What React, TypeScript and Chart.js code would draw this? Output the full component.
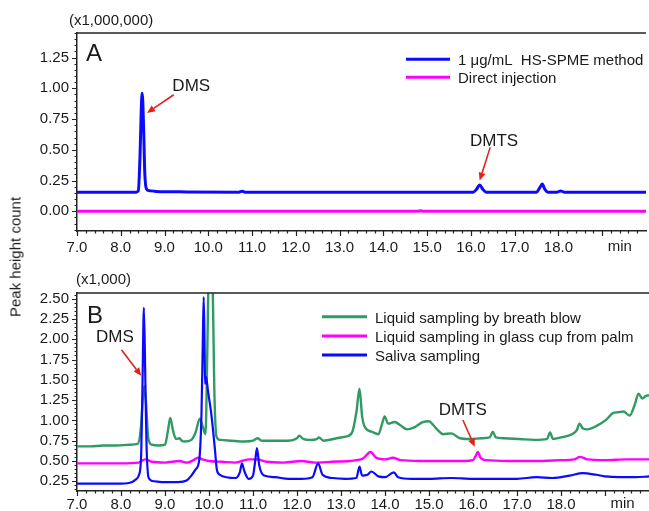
import React, { useEffect, useRef } from 'react';
import { Chart, registerables } from 'chart.js';

Chart.register(...registerables);

const FONT = "'Liberation Sans', Arial, Helvetica, sans-serif";
const TXT = '#1a1a1a';
const AX = '#222222';
const BLUE = '#0a0aff';
const MAGENTA = '#ff00ff';
const GREEN = '#2f9b62';
const RED = '#e3201c';

// ---------- Panel A data (x1,000,000) ----------
const aSpmeTime = [7.0, 8.35, 8.4, 8.44, 8.47, 8.49, 8.52, 8.55, 8.59, 8.65, 8.8, 9.5, 10.7, 10.77, 10.84, 12.0, 16.05, 16.13, 16.2, 16.27, 16.35, 17.5, 17.57, 17.63, 17.69, 17.76, 17.97, 18.05, 18.13, 20.0];
const aSpmeCount = [0.156, 0.156, 0.165, 0.45, 0.85, 0.96, 0.7, 0.3, 0.18, 0.168, 0.162, 0.158, 0.156, 0.164, 0.156, 0.156, 0.156, 0.18, 0.215, 0.18, 0.156, 0.156, 0.19, 0.222, 0.178, 0.156, 0.156, 0.166, 0.156, 0.156];
const aDirectTime = [7.0, 14.78, 14.85, 14.92, 20.0];
const aDirectCount = [0.0, 0.0, 0.004, 0.0, 0.0];

// ---------- Panel B data (x1,000) ----------
const bBreathTime = [7.0, 7.3, 7.6, 7.9, 8.2, 8.38, 8.45, 8.5, 8.53, 8.57, 8.62, 8.7, 8.85, 9.0, 9.06, 9.12, 9.18, 9.25, 9.33, 9.38, 9.45, 9.6, 9.7, 9.79, 9.86, 9.92, 9.96, 9.99, 10.03, 10.08, 10.12, 10.17, 10.25, 10.5, 10.8, 11.0, 11.1, 11.2, 11.5, 11.8, 12.0, 12.05, 12.15, 12.3, 12.45, 12.5, 12.6, 12.9, 13.1, 13.25, 13.35, 13.42, 13.48, 13.55, 13.7, 13.85, 13.93, 13.99, 14.07, 14.22, 14.35, 14.5, 14.65, 14.86, 15.0, 15.1, 15.2, 15.32, 15.51, 15.7, 15.93, 16.2, 16.38, 16.45, 16.52, 16.7, 17.06, 17.4, 17.68, 17.75, 17.82, 18.0, 18.25, 18.36, 18.42, 18.5, 18.6, 18.8, 19.03, 19.18, 19.3, 19.42, 19.56, 19.68, 19.76, 19.85, 19.92, 20.0];
const bBreathCount = [0.68, 0.68, 0.69, 0.69, 0.7, 0.71, 0.9, 1.3, 1.42, 1.2, 0.78, 0.7, 0.69, 0.7, 0.85, 1.03, 0.88, 0.77, 0.78, 0.75, 0.74, 0.76, 0.86, 1.02, 0.92, 0.83, 1.8, 2.8, 3.2, 2.8, 1.4, 0.8, 0.76, 0.75, 0.74, 0.75, 0.78, 0.75, 0.75, 0.75, 0.78, 0.81, 0.77, 0.76, 0.77, 0.79, 0.75, 0.78, 0.8, 0.85, 1.1, 1.39, 1.05, 0.91, 0.86, 0.83, 0.95, 1.05, 0.96, 0.98, 0.94, 0.89, 0.91, 0.98, 0.99, 0.94, 0.88, 0.83, 0.84, 0.78, 0.77, 0.78, 0.79, 0.86, 0.79, 0.78, 0.77, 0.76, 0.77, 0.85, 0.77, 0.79, 0.83, 0.88, 0.96, 0.9, 0.89, 0.93, 1.01, 1.09, 1.1, 1.11, 1.06, 1.2, 1.33, 1.27, 1.3, 1.31];
const bPalmTime = [7.0, 7.5, 8.0, 8.4, 8.55, 8.7, 9.0, 9.33, 9.5, 9.65, 9.75, 9.85, 10.0, 10.3, 10.6, 10.9, 11.1, 11.3, 11.7, 12.1, 12.4, 12.8, 13.2, 13.35, 13.5, 13.67, 13.8, 14.0, 14.18, 14.35, 14.8, 15.3, 15.8, 16.0, 16.06, 16.11, 16.17, 16.3, 16.8, 17.4, 18.0, 18.3, 18.43, 18.6, 19.0, 19.5, 20.0];
const bPalmCount = [0.47, 0.47, 0.47, 0.48, 0.52, 0.49, 0.48, 0.5, 0.48, 0.51, 0.54, 0.52, 0.5, 0.49, 0.48, 0.52, 0.52, 0.49, 0.48, 0.5, 0.48, 0.49, 0.5, 0.51, 0.53, 0.61, 0.54, 0.52, 0.54, 0.51, 0.5, 0.5, 0.5, 0.51, 0.56, 0.61, 0.54, 0.51, 0.5, 0.5, 0.51, 0.52, 0.55, 0.52, 0.51, 0.52, 0.52];
const bSalivaTime = [7.0, 7.5, 8.0, 8.25, 8.33, 8.41, 8.46, 8.49, 8.52, 8.55, 8.58, 8.63, 8.75, 9.0, 9.3, 9.49, 9.6, 9.7, 9.78, 9.83, 9.86, 9.88, 9.9, 9.91, 9.93, 9.98, 10.05, 10.13, 10.18, 10.25, 10.4, 10.6, 10.7, 10.75, 10.8, 10.9, 11.0, 11.05, 11.09, 11.14, 11.25, 11.5, 11.8, 12.1, 12.35, 12.48, 12.58, 12.8, 13.1, 13.35, 13.42, 13.48, 13.6, 13.69, 13.85, 14.0, 14.2, 14.3, 14.6, 15.0, 15.5, 16.0, 16.5, 17.0, 17.44, 17.8, 18.2, 18.49, 18.8, 19.0, 19.33, 19.7, 20.0];
const bSalivaCount = [0.22, 0.22, 0.22, 0.24, 0.27, 0.33, 0.6, 1.5, 2.39, 1.6, 0.7, 0.29, 0.25, 0.24, 0.24, 0.26, 0.32, 0.4, 0.52, 1.1, 2.0, 2.52, 1.9, 1.45, 1.54, 1.35, 1.09, 0.67, 0.39, 0.33, 0.3, 0.29, 0.36, 0.47, 0.38, 0.28, 0.32, 0.5, 0.66, 0.45, 0.32, 0.3, 0.28, 0.28, 0.3, 0.47, 0.33, 0.29, 0.28, 0.29, 0.43, 0.32, 0.33, 0.37, 0.31, 0.3, 0.36, 0.3, 0.28, 0.28, 0.29, 0.28, 0.28, 0.28, 0.3, 0.29, 0.32, 0.35, 0.33, 0.31, 0.3, 0.3, 0.31];

// ---------- tick labels / legend text ----------
const xTickValues = [7, 8, 9, 10, 11, 12, 13, 14, 15, 16, 17, 18];
const yTicksA = [0, 0.25, 0.5, 0.75, 1.0, 1.25];
const yTicksB = [0.25, 0.5, 0.75, 1.0, 1.25, 1.5, 1.75, 2.0, 2.25, 2.5];
const legendA = ['1 μg/mL  HS-SPME method', 'Direct injection'];
const legendB = ['Liquid sampling by breath blow', 'Liquid sampling in glass cup from palm', 'Saliva sampling'];

type Pt = [number, number];
type Note = { text: string; at: Pt; from: Pt; to: Pt };
const notesA: Note[] = [
  { text: 'DMS', at: [9.61, 1.015], from: [9.21, 0.948], to: [8.6, 0.8] },
  { text: 'DMTS', at: [16.53, 0.566], from: [16.44, 0.52], to: [16.2, 0.25] },
];
const notesB: Note[] = [
  { text: 'DMS', at: [7.86, 2.02], from: [8.01, 1.87], to: [8.46, 1.55] },
  { text: 'DMTS', at: [15.77, 1.13], from: [15.77, 1.005], to: [16.04, 0.675] },
];

const xy = (t: number[], v: number[]) => t.map((x, i) => ({ x, y: v[i] }));

type Deco = {
  letter: string; letterDx: number; letterDy: number;
  mult: string; multDx: number; multDy: number;
  legend: { label: string; color: string }[];
  legDx: number; legDy: number; legGap: number; legLen: number;
  notes: Note[];
  labelPad: number;
};

function arrow(ctx: CanvasRenderingContext2D, x1: number, y1: number, x2: number, y2: number) {
  const ang = Math.atan2(y2 - y1, x2 - x1);
  const hl = 8, hw = 3.5;
  const bx = x2 - hl * Math.cos(ang), by = y2 - hl * Math.sin(ang);
  ctx.beginPath();
  ctx.moveTo(x1, y1);
  ctx.lineTo(bx, by);
  ctx.stroke();
  ctx.beginPath();
  ctx.moveTo(x2, y2);
  ctx.lineTo(bx + hw * Math.sin(ang), by - hw * Math.cos(ang));
  ctx.lineTo(bx - hw * Math.sin(ang), by + hw * Math.cos(ang));
  ctx.closePath();
  ctx.fill();
}

function makeDeco(id: string, d: Deco) {
  return {
    id,
    afterDraw(chart: any) {
      const { ctx, chartArea: ca } = chart;
      const xs = chart.scales.x, ys = chart.scales.y;
      ctx.save();
      // top frame line
      ctx.strokeStyle = AX;
      ctx.lineWidth = 1.5;
      ctx.beginPath();
      ctx.moveTo(ca.left - 0.75, ca.top);
      ctx.lineTo(ca.right, ca.top);
      ctx.stroke();
      // tick marks (major + minor)
      ctx.lineWidth = 1.2;
      ctx.beginPath();
      for (let i = Math.ceil(xs.min * 5); i <= Math.floor(xs.max * 5) - 1; i++) {
        const px = Math.round(xs.getPixelForValue(i / 5)) + 0.5;
        const len = i % 5 === 0 ? 5 : 2.5;
        ctx.moveTo(px, ca.bottom);
        ctx.lineTo(px, ca.bottom + len);
      }
      for (let i = Math.ceil(ys.min * 20 - 1e-6); i <= Math.floor(ys.max * 20 + 1e-6); i++) {
        const py = Math.round(ys.getPixelForValue(i / 20)) + 0.5;
        const len = i % 5 === 0 ? 5 : 2.5;
        ctx.moveTo(ca.left, py);
        ctx.lineTo(ca.left - len, py);
      }
      ctx.stroke();
      // 'min' unit label
      ctx.fillStyle = TXT;
      ctx.font = `15px ${FONT}`;
      ctx.textAlign = 'center';
      ctx.textBaseline = 'top';
      ctx.fillText('min', xs.getPixelForValue(19.4), ca.bottom + 5 + d.labelPad);
      // multiplier
      ctx.textAlign = 'left';
      ctx.textBaseline = 'middle';
      ctx.fillText(d.mult, ca.left + d.multDx, ca.top + d.multDy);
      // panel letter
      ctx.font = `24px ${FONT}`;
      ctx.textBaseline = 'alphabetic';
      ctx.fillText(d.letter, ca.left + d.letterDx, ca.top + d.letterDy);
      // legend
      ctx.font = `15px ${FONT}`;
      ctx.textBaseline = 'middle';
      d.legend.forEach((it, i) => {
        const ly = ca.top + d.legDy + i * d.legGap;
        const lx = ca.left + d.legDx;
        ctx.strokeStyle = it.color;
        ctx.lineWidth = 3;
        ctx.beginPath();
        ctx.moveTo(lx, ly);
        ctx.lineTo(lx + d.legLen, ly);
        ctx.stroke();
        ctx.fillStyle = TXT;
        ctx.fillText(it.label, lx + d.legLen + 8, ly + 2);
      });
      // annotations
      ctx.font = `17px ${FONT}`;
      ctx.textAlign = 'center';
      ctx.textBaseline = 'middle';
      d.notes.forEach((n) => {
        ctx.fillStyle = TXT;
        ctx.fillText(n.text, xs.getPixelForValue(n.at[0]), ys.getPixelForValue(n.at[1]));
        ctx.strokeStyle = RED;
        ctx.fillStyle = RED;
        ctx.lineWidth = 1.6;
        arrow(ctx, xs.getPixelForValue(n.from[0]), ys.getPixelForValue(n.from[1]), xs.getPixelForValue(n.to[0]), ys.getPixelForValue(n.to[1]));
      });
      ctx.restore();
    },
  };
}

function xScale(h: number, pad: number) {
  return {
    type: 'linear',
    min: 7,
    max: 20,
    ticks: {
      stepSize: 1,
      autoSkip: false,
      maxRotation: 0,
      color: TXT,
      padding: pad,
      font: { family: FONT, size: 15 },
      callback: (v: number) => (xTickValues.includes(v) ? Number(v).toFixed(1) : ''),
    },
    grid: { display: true, drawOnChartArea: false, drawTicks: true, tickLength: 5, tickColor: 'rgba(0,0,0,0)' },
    border: { display: true, color: AX, width: 1.5 },
    afterFit: (s: any) => { s.height = h; },
  };
}

function yScale(min: number, max: number, labels: number[]) {
  return {
    type: 'linear',
    min,
    max,
    ticks: {
      stepSize: 0.25,
      includeBounds: false,
      autoSkip: false,
      color: TXT,
      padding: 3,
      font: { family: FONT, size: 15 },
      callback: (v: number) => (labels.some((t) => Math.abs(t - v) < 1e-6) ? Number(v).toFixed(2) : ''),
    },
    grid: { display: true, drawOnChartArea: false, drawTicks: true, tickLength: 5, tickColor: 'rgba(0,0,0,0)' },
    border: { display: true, color: AX, width: 1.5 },
    afterFit: (s: any) => { s.width = 77; },
  };
}

const line = (label: string, data: any[], color: string, w: number) => ({
  label,
  data,
  borderColor: color,
  backgroundColor: color,
  borderWidth: w,
  pointRadius: 0,
  fill: false,
  cubicInterpolationMode: 'monotone' as const,
});

function buildA(): any {
  return {
    type: 'line',
    data: {
      datasets: [
        line(legendA[0], xy(aSpmeTime, aSpmeCount), BLUE, 3),
        line(legendA[1], xy(aDirectTime, aDirectCount), MAGENTA, 3),
      ],
    },
    options: {
      animation: false,
      responsive: false,
      events: [],
      layout: { padding: { top: 33, left: 0, right: 0, bottom: 0 } },
      plugins: { legend: { display: false }, tooltip: { enabled: false } },
      scales: { x: xScale(24, 3), y: yScale(-0.16, 1.45, yTicksA) },
    },
    plugins: [
      makeDeco('decoA', {
        letter: 'A', letterDx: 9, letterDy: 28,
        mult: '(x1,000,000)', multDx: -8, multDy: -12.5,
        legend: [{ label: legendA[0], color: BLUE }, { label: legendA[1], color: MAGENTA }],
        legDx: 329, legDy: 26.3, legGap: 18, legLen: 44,
        notes: notesA,
        labelPad: 3,
      }),
    ],
  };
}

function buildB(): any {
  return {
    type: 'line',
    data: {
      datasets: [
        line(legendB[2], xy(bSalivaTime, bSalivaCount), BLUE, 2.2),
        line(legendB[1], xy(bPalmTime, bPalmCount), MAGENTA, 2.4),
        line(legendB[0], xy(bBreathTime, bBreathCount), GREEN, 2.4),
      ],
    },
    options: {
      animation: false,
      responsive: false,
      events: [],
      layout: { padding: { top: 38, left: 0, right: 0, bottom: 0 } },
      plugins: { legend: { display: false }, tooltip: { enabled: false } },
      scales: { x: xScale(20, 0), y: yScale(0.13, 2.57, yTicksB) },
    },
    plugins: [
      makeDeco('decoB', {
        letter: 'B', letterDx: 10, letterDy: 30,
        mult: '(x1,000)', multDx: -1, multDy: -13,
        legend: [
          { label: legendB[0], color: GREEN },
          { label: legendB[1], color: MAGENTA },
          { label: legendB[2], color: BLUE },
        ],
        legDx: 245, legDy: 23.7, legGap: 19.2, legLen: 45,
        notes: notesB,
        labelPad: 0,
      }),
    ],
  };
}

export default function App() {
  const refA = useRef<HTMLCanvasElement>(null);
  const refB = useRef<HTMLCanvasElement>(null);
  useEffect(() => {
    const a = new Chart(refA.current as HTMLCanvasElement, buildA());
    const b = new Chart(refB.current as HTMLCanvasElement, buildB());
    return () => {
      a.destroy();
      b.destroy();
    };
  }, []);
  return (
    <div style={{ position: 'absolute', left: 0, top: 0, width: 649, height: 511, overflow: 'hidden', background: '#fff' }}>
      <canvas ref={refA} width={649} height={255} style={{ position: 'absolute', left: 0, top: 0, width: 649, height: 255 }} />
      <canvas ref={refB} width={649} height={256} style={{ position: 'absolute', left: 0, top: 255, width: 649, height: 256 }} />
      <div
        style={{
          position: 'absolute',
          left: 15,
          top: 257,
          transform: 'translate(-50%, -50%) rotate(-90deg)',
          font: `15px ${FONT}`,
          color: TXT,
          whiteSpace: 'nowrap',
        }}
      >
        Peak height count
      </div>
    </div>
  );
}
